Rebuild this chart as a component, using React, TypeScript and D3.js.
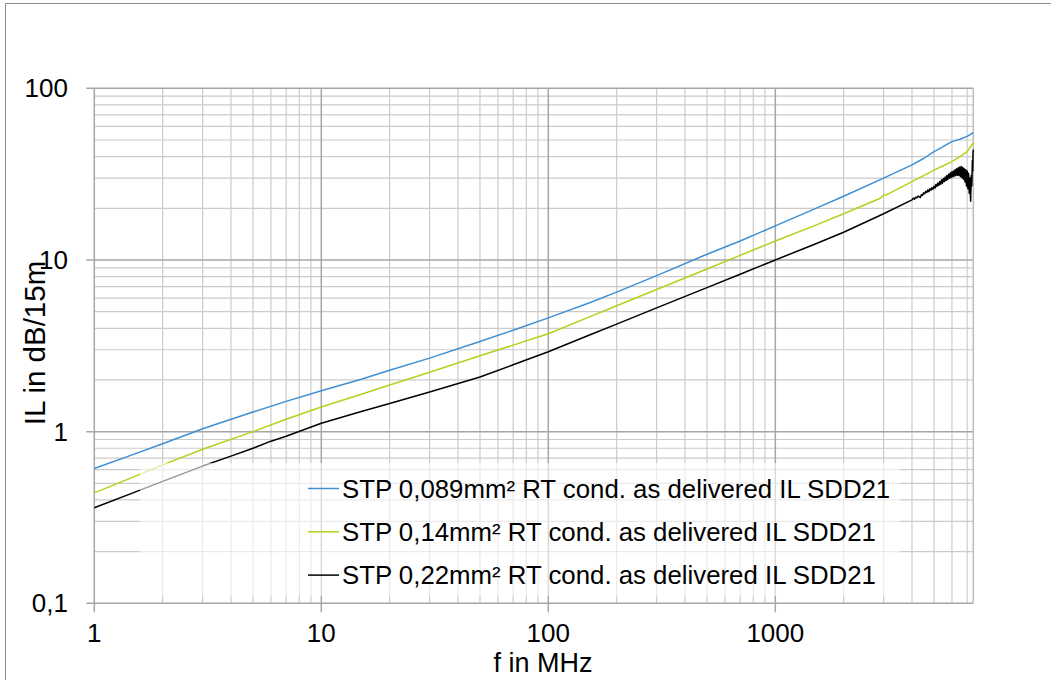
import React from "react";
import * as d3 from "d3";

// ---- data ----
const xTickLabels = ["1", "10", "100", "1000"];
const xTickValues = [1, 10, 100, 1000];
const yTickLabels = ["0,1", "1", "10", "100"];
const yTickValues = [0.1, 1, 10, 100];

const seriesNames = [
  "STP 0,089mm² RT cond. as delivered IL SDD21",
  "STP 0,14mm² RT cond. as delivered IL SDD21",
  "STP 0,22mm² RT cond. as delivered IL SDD21",
];
const seriesColors = ["#3f8fd2", "#b3d11b", "#000000"];

const freqBlue = [1, 1.5, 2, 3, 5, 7, 10, 15, 20, 30, 50, 70, 100, 150, 200, 300, 500, 700, 1000, 1500, 2000, 3000, 4000, 4500, 5000, 5300, 5600, 6000, 6500, 7000, 7450];
const ilBlue = [0.61, 0.74, 0.85, 1.04, 1.30, 1.50, 1.73, 2.02, 2.28, 2.68, 3.35, 3.9, 4.6, 5.6, 6.5, 8.1, 10.8, 12.9, 15.8, 19.9, 23.5, 30.0, 35.8, 39.0, 42.8, 44.5, 46.5, 48.9, 50.5, 52.5, 55.2];

const freqGreen = [1, 1.5, 2, 3, 5, 7, 10, 15, 20, 30, 50, 70, 100, 150, 200, 300, 500, 700, 1000, 1500, 2000, 2900, 3000, 3100, 4000, 4500, 5000, 5500, 6000, 6500, 7000, 7450];
const ilGreen = [0.44, 0.547, 0.64, 0.79, 1.0, 1.18, 1.39, 1.65, 1.87, 2.22, 2.77, 3.19, 3.72, 4.63, 5.41, 6.73, 8.86, 10.63, 12.9, 15.9, 18.6, 22.9, 23.9, 24.0, 28.6, 31.0, 33.4, 35.4, 37.4, 40.0, 42.8, 48.2];

const freqBlack = [1, 1.5, 2, 3, 4, 5, 6, 7, 10, 15, 20, 30, 50, 70, 100, 150, 200, 300, 500, 700, 1000, 1500, 2000, 3000,
  4000, 4050, 4100, 4150, 4200, 4250, 4300, 4350, 4400, 4450, 4500, 4550, 4600, 4650, 4700, 4750, 4800, 4850, 4900, 4950,
  5000, 5050, 5100, 5150, 5200, 5250, 5300, 5350, 5400, 5450, 5500, 5550, 5600, 5650, 5700, 5750, 5800, 5850, 5900, 5950,
  6000, 6050, 6100, 6150, 6200, 6250, 6300, 6350, 6400, 6450, 6500, 6550, 6600, 6650, 6700, 6750, 6800, 6850, 6900, 6950,
  7000, 7050, 7100, 7150, 7200, 7250, 7300, 7340, 7380, 7410, 7430, 7450];
const ilBlack = [0.36, 0.443, 0.513, 0.63, 0.72, 0.80, 0.88, 0.94, 1.12, 1.31, 1.46, 1.70, 2.08, 2.45, 2.92, 3.63, 4.23, 5.26, 6.9, 8.26, 10.0, 12.4, 14.5, 18.6,
  22.4, 22.9, 22.6, 23.2, 23.0, 23.5, 23.4, 23.1, 24.0, 23.8, 24.6, 24.3, 25.1, 24.7, 25.6, 25.0, 26.0, 25.5, 26.4, 25.8,
  26.9, 26.2, 27.5, 26.8, 28.1, 27.2, 28.6, 27.6, 29.3, 28.0, 29.8, 28.6, 30.4, 29.0, 31.0, 29.4, 31.6, 30.0, 32.2, 30.2,
  32.6, 30.5, 33.0, 30.8, 33.6, 31.0, 34.0, 31.2, 34.5, 31.0, 34.8, 30.6, 35.0, 30.0, 34.6, 29.5, 34.0, 28.5, 33.5, 27.0,
  33.0, 26.0, 32.0, 24.5, 30.0, 22.0, 31.0, 27.0, 38.0, 33.0, 42.0, 44.0];

const xDomain: [number, number] = [1, 7450];
const yDomain: [number, number] = [0.1, 100];

export default function App() {
  const W = 1051, H = 680;
  const left = 94.3, right = 973.3, top = 88.3, bottom = 603.3;
  const x = d3.scaleLog().domain(xDomain).range([left, right]);
  const y = d3.scaleLog().domain(yDomain).range([bottom, top]);

  const minorX: number[] = [];
  for (let d = 1; d <= 1000; d *= 10) for (let k = 2; k <= 9; k++) if (d * k <= xDomain[1]) minorX.push(d * k);
  const minorY: number[] = [];
  for (let d = 0.1; d < 100; d *= 10) for (let k = 2; k <= 9; k++) minorY.push(d * k);

  const line = d3.line<[number, number]>().x(d => x(d[0])).y(d => y(d[1]));
  const series = [
    freqBlue.map((f, i) => [f, ilBlue[i]] as [number, number]),
    freqGreen.map((f, i) => [f, ilGreen[i]] as [number, number]),
    freqBlack.map((f, i) => [f, ilBlack[i]] as [number, number]),
  ];

  const font = "'Liberation Sans', Arial, sans-serif";
  const legX = 308, legY0 = 488.5, legDy = 43.3;

  return (
    <svg width={W} height={H} style={{ position: "absolute", left: 0, top: 0, background: "#fff" }} fontFamily={font}>
      <rect x={5.5} y={3.5} width={1060} height={700} fill="#fff" stroke="#8c8c8c" strokeWidth={1} />
      {/* minor grid */}
      {minorX.map((v, i) => (
        <line key={"mx" + i} x1={x(v)} x2={x(v)} y1={top} y2={bottom} stroke="#cbcbcb" strokeWidth={1.2} />
      ))}
      {minorY.map((v, i) => (
        <line key={"my" + i} x1={left} x2={right} y1={y(v)} y2={y(v)} stroke="#cbcbcb" strokeWidth={1.2} />
      ))}
      {/* major grid */}
      {xTickValues.map((v, i) => (
        <line key={"Mx" + i} x1={x(v)} x2={x(v)} y1={top} y2={bottom + 9} stroke="#a6a6a6" strokeWidth={1.5} />
      ))}
      {yTickValues.map((v, i) => (
        <line key={"My" + i} x1={left - 8} x2={right} y1={y(v)} y2={y(v)} stroke="#a6a6a6" strokeWidth={1.5} />
      ))}
      <line x1={right} x2={right} y1={top} y2={bottom} stroke="#bdbdbd" strokeWidth={1.5} />
      {/* series */}
      {series.map((s, i) => (
        <path key={"s" + i} d={line(s) || ""} fill="none" stroke={seriesColors[i]} strokeWidth={1.5} strokeLinejoin="round" />
      ))}
      {/* legend */}
      <rect x={140} y={463} width={760} height={133} fill="#fff" fillOpacity={0.6} />
      {seriesNames.map((n, i) => (
        <g key={"l" + i}>
          <line x1={legX} x2={legX + 31} y1={legY0 + i * legDy} y2={legY0 + i * legDy} stroke={seriesColors[i]} strokeWidth={1.5} />
          <text x={legX + 34} y={legY0 + i * legDy} dominantBaseline="central" fontSize={25.8} fill="#000">{n}</text>
        </g>
      ))}
      {/* tick labels */}
      {xTickValues.map((v, i) => (
        <text key={"xt" + i} x={x(v)} y={633} textAnchor="middle" dominantBaseline="central" fontSize={26} fill="#000">{xTickLabels[i]}</text>
      ))}
      {yTickValues.map((v, i) => (
        <text key={"yt" + i} x={68} y={y(v)} textAnchor="end" dominantBaseline="central" fontSize={26} fill="#000">{yTickLabels[i]}</text>
      ))}
      {/* axis titles */}
      <text x={543} y={663} textAnchor="middle" dominantBaseline="central" fontSize={27} fill="#000">f in MHz</text>
      <text transform="translate(34,343) rotate(-90)" textAnchor="middle" dominantBaseline="central" fontSize={29.5} fill="#000">IL in dB/15m</text>
    </svg>
  );
}
